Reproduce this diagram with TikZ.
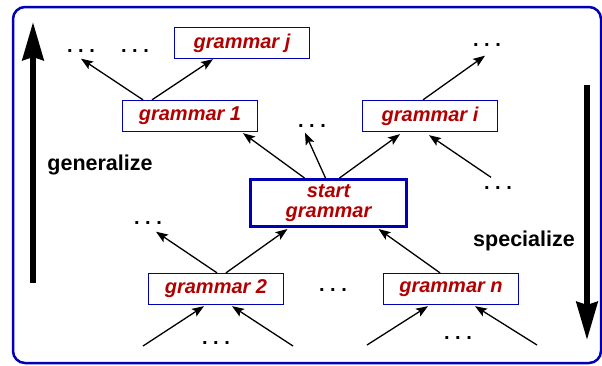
\documentclass[tikz,border=0pt]{standalone}
\usepackage{fontspec}
\setmainfont{Liberation Sans}
\usetikzlibrary{arrows.meta}
\definecolor{frameblue}{RGB}{0,0,180}
\definecolor{gramred}{RGB}{178,0,0}
\begin{document}
\begin{tikzpicture}[x=1pt,y=-1pt,
  gbox/.style={draw=frameblue, line width=1.3pt, minimum width=135pt, minimum height=31pt,
    inner sep=0pt, text=gramred, font=\fontsize{20}{20}\selectfont\bfseries\itshape},
  startbox/.style={gbox, line width=3pt, minimum width=156pt, minimum height=47pt, align=center},
  dots/.style={font=\fontsize{20}{20}\selectfont\bfseries, inner sep=0pt},
  arr/.style={line width=1.3pt, -{Stealth[length=12pt,width=9pt,inset=2.5pt]}},
  bigarr/.style={line width=6pt, -{Stealth[length=38pt,width=21pt,inset=3pt]}},
  lbl/.style={font=\fontsize{21.5}{21.5}\selectfont\bfseries, inner sep=0pt}]
\useasboundingbox (0,0) rectangle (602,365);

% outer frame
\draw[frameblue, line width=2.5pt, rounded corners=12pt] (13,7) rectangle (601,363);

% direction arrows and their labels
\coordinate (genlo) at (33,283);
\coordinate (genhi) at (33,22);
\coordinate (spehi) at (587,85);
\coordinate (spelo) at (587,340);
\draw[bigarr] (genlo) -- (genhi);
\draw[bigarr] (spehi) -- (spelo);
\node[lbl] (gen) at (100,165) {generalize};
\node[lbl] (spe) at (524,241) {specialize};

% grammars
\node[gbox] (gj) at (242,43) {grammar j};
\node[gbox] (g1) at (190,116) {grammar 1};
\node[gbox] (gi) at (430,116) {grammar i};
\node[startbox] (st) at (328.5,203) {start\\grammar};
\node[gbox] (g2) at (216,289) {grammar 2};
\node[gbox] (gn) at (451,289) {grammar n};

% elided grammars
\node[dots] (d1) at (81,51) {.\ .\ .};
\node[dots] (d2) at (135,51) {.\ .\ .};
\node[dots] (d3) at (487,45) {.\ .\ .};
\node[dots] (d4) at (312,126) {.\ .\ .};
\node[dots] (d5) at (498,188) {.\ .\ .};
\node[dots] (d6) at (148,223) {.\ .\ .};
\node[dots] (d7) at (333,290) {.\ .\ .};
\node[dots] (d8) at (216,343) {.\ .\ .};
\node[dots] (d9) at (458,338) {.\ .\ .};

% loose ends below the bottom row
\coordinate (b1) at (143,346);
\coordinate (b2) at (293,346);
\coordinate (b3) at (367,345);
\coordinate (b4) at (537,345);

% generalization steps
\draw[arr] ([xshift=-47pt]g1.north) -- ([yshift=-6pt]d1.south);
\draw[arr] ([xshift=-38pt]g1.north) -- ([xshift=-29pt]gj.south);
\draw[arr] ([xshift=-24pt]st.north) -- ([xshift=53pt,yshift=-1pt]g1.south);
\draw[arr] ([xshift=-3pt]st.north) -- ([xshift=-7pt,yshift=-5pt]d4.south);
\draw[arr] ([xshift=11pt]st.north) -- ([xshift=-30pt,yshift=-2pt]gi.south);
\draw[arr] ([xshift=-7pt]gi.north) -- ([xshift=-2pt,yshift=-9pt]d3.south);
\draw[arr] ([xshift=-7pt,yshift=9pt]d5.north) -- ([xshift=-1pt,yshift=-3pt]gi.south);
\draw[arr] ([xshift=1pt]g2.north) -- ([xshift=8pt,yshift=-7pt]d6.south);
\draw[arr] ([xshift=10pt]g2.north) -- ([xshift=-41pt,yshift=-1pt]st.south);
\draw[arr] ([xshift=-11pt]gn.north) -- ([xshift=50pt,yshift=-1pt]st.south);
\draw[arr] (b1) -- ([xshift=-12pt,yshift=-1pt]g2.south);
\draw[arr] (b2) -- ([xshift=16pt,yshift=-1pt]g2.south);
\draw[arr] (b3) -- ([xshift=-23pt,yshift=-1pt]gn.south);
\draw[arr] (b4) -- ([xshift=24pt,yshift=-1pt]gn.south);
\end{tikzpicture}
\end{document}
